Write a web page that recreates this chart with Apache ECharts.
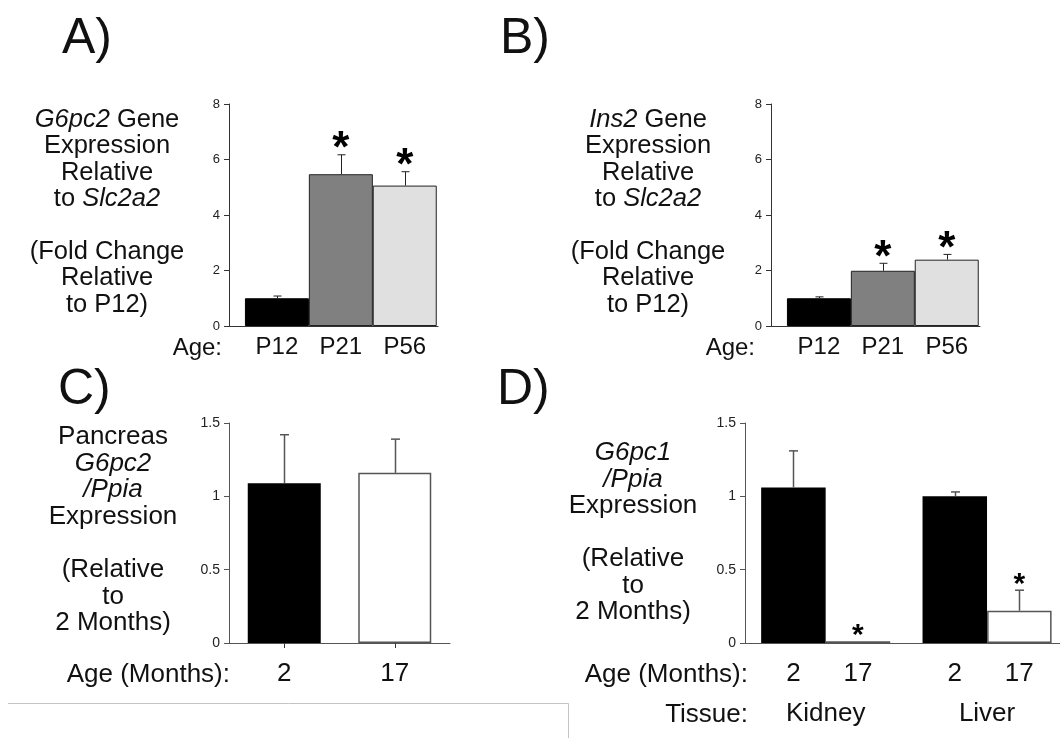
<!DOCTYPE html>
<html><head><meta charset="utf-8">
<script src="https://cdn.jsdelivr.net/npm/echarts@6/dist/echarts.min.js"></script>
<style>html,body{margin:0;padding:0;background:#fff}#c{width:1060px;height:738px}</style>
</head><body><div id="c"></div>
<script>
// ---------- data ----------
const catsA = ['P12', 'P21', 'P56'];
const valsA = [1.0, 5.47, 5.06];
const errA  = [0.08, 0.70, 0.50];
const sigA  = [0, 1, 1];

const catsB = ['P12', 'P21', 'P56'];
const valsB = [1.0, 1.99, 2.39];
const errB  = [0.05, 0.27, 0.19];
const sigB  = [0, 1, 1];

const catsC = ['2', '17'];
const valsC = [1.09, 1.16];
const errC  = [0.33, 0.23];
const sigC  = [0, 0];

const catsD   = ['2', '17', '2', '17'];
const tissueD = ['Kidney', 'Liver'];
const valsD = [1.06, 0.012, 1.00, 0.22];
const errD  = [0.25, 0.0, 0.03, 0.14];
const sigD  = [0, 1, 0, 1];

const ticksAB = { min: 0, max: 8, step: 2 };
const ticksCD = { min: 0, max: 1.5, step: 0.5 };

// ---------- layout / style ----------
const FF = '"Liberation Sans", Arial, Helvetica, sans-serif';
const posAB = [0, 1, 2];           // adjacent bars
const posD  = [0, 1, 2.5, 3.5];    // two tissue groups
const tissuePos = [(posD[0] + posD[1]) / 2, (posD[2] + posD[3]) / 2];
const fillsAB = ['#000000', '#808080', '#e0e0e0'];
const edgesAB = ['#000000', '#222222', '#222222'];
const fillsCD = ['#000000', '#ffffff', '#000000', '#ffffff'];
const edgesCD = ['#000000', '#555555', '#000000', '#555555'];

function errRender(o) {
  return function (params, api) {
    const x = api.value(0), y = api.value(1), e = api.value(2), s = api.value(3);
    const p0 = api.coord([x, y]), p1 = api.coord([x, y + e]);
    const cx = Math.round(p0[0]) + 0.5;
    const children = [];
    if (e > 0) {
      children.push({ type: 'line', shape: { x1: cx, y1: p0[1], x2: cx, y2: p1[1] },
        style: { stroke: o.color, lineWidth: o.lw } });
      children.push({ type: 'line', shape: { x1: cx - o.cap / 2, y1: p1[1], x2: cx + o.cap / 2, y2: p1[1] },
        style: { stroke: o.color, lineWidth: o.lw } });
    }
    if (s) {
      children.push({ type: 'text', x: p1[0], y: p1[1] - o.gap + 0.225 * o.star,
        style: { text: '*', fill: '#000', font: 'bold ' + o.star + 'px ' + FF,
          align: 'center', verticalAlign: 'middle', textAlign: 'center', textVerticalAlign: 'middle' } });
    }
    return { type: 'group', children };
  };
}

function barData(vals, pos, fills, edges, bw) {
  return vals.map((v, i) => ({ value: pos ? [pos[i], v] : v,
    itemStyle: { color: fills[i], borderColor: edges[i], borderWidth: bw } }));
}
function errData(vals, errs, sigs, pos) {
  return vals.map((v, i) => [pos ? pos[i] : i, v, errs[i], sigs[i]]);
}

function txt(x, y, text, size, align, extra) {
  return Object.assign({ type: 'text', x: x, y: y, style: {
    text: text, font: size + 'px ' + FF, fill: '#111',
    align: align, textAlign: align, verticalAlign: 'middle', textVerticalAlign: 'middle',
    rich: { i: { fontStyle: 'italic', fontSize: size, fontFamily: FF, fill: '#111' } } } }, extra || {});
}
function titleBlock(cx, y0, step, size, lines) {
  const out = [];
  lines.forEach((l, k) => { if (l) out.push(txt(cx, y0 + k * step, l, size, 'center')); });
  return out;
}

const yAxisBase = (g, t, col, fs) => ({
  gridIndex: g, type: 'value', min: t.min, max: t.max, interval: t.step,
  axisLine: { show: true, onZero: false, lineStyle: { color: col, width: 1 } },
  axisTick: { show: true, inside: false, length: 5, lineStyle: { color: col } },
  axisLabel: { fontSize: fs, fontFamily: FF, color: '#222', margin: 9 },
  splitLine: { show: false }
});
const xLblAB = { fontSize: 24, fontFamily: FF, color: '#111' };
const xLblCD = { fontSize: 26, fontFamily: FF, color: '#111' };

const option = {
  animation: false,
  backgroundColor: '#fff',
  grid: [
    { left: 229, top: 104, width: 209, height: 222 },
    { left: 771, top: 104, width: 209, height: 222 },
    { left: 229, top: 423, width: 221, height: 220 },
    { left: 745, top: 423, width: 315, height: 220 }
  ],
  xAxis: [
    { gridIndex: 0, type: 'value', min: -0.75, max: 2.52,
      axisLine: { show: true, onZero: false, lineStyle: { color: '#333' } }, axisTick: { show: false }, splitLine: { show: false },
      axisLabel: Object.assign({ customValues: posAB, margin: 9, formatter: v => catsA[posAB.indexOf(v)] }, xLblAB) },
    { gridIndex: 1, type: 'value', min: -0.75, max: 2.52,
      axisLine: { show: true, onZero: false, lineStyle: { color: '#333' } }, axisTick: { show: false }, splitLine: { show: false },
      axisLabel: Object.assign({ customValues: posAB, margin: 9, formatter: v => catsB[posAB.indexOf(v)] }, xLblAB) },
    { gridIndex: 2, type: 'category', data: catsC, boundaryGap: true,
      axisLine: { show: true, onZero: false, lineStyle: { color: '#555' } },
      axisTick: { show: true, alignWithLabel: true, length: 5, lineStyle: { color: '#333' } },
      axisLabel: Object.assign({ margin: 18 }, xLblCD) },
    { gridIndex: 3, type: 'value', min: -0.75, max: 4.13, position: 'bottom',
      axisLine: { show: true, onZero: false, lineStyle: { color: '#555' } }, axisTick: { show: false }, splitLine: { show: false },
      axisLabel: Object.assign({ customValues: posD, margin: 18, formatter: v => catsD[posD.indexOf(v)] }, xLblCD) },
    { gridIndex: 3, type: 'value', min: -0.75, max: 4.13, position: 'bottom', offset: 0,
      axisLine: { show: false, onZero: false }, axisTick: { show: false }, splitLine: { show: false },
      axisLabel: Object.assign({ customValues: tissuePos, margin: 58, formatter: v => tissueD[tissuePos.indexOf(v)] }, xLblCD) }
  ],
  yAxis: [
    yAxisBase(0, ticksAB, '#333', 13),
    yAxisBase(1, ticksAB, '#333', 13),
    yAxisBase(2, ticksCD, '#555', 14),
    yAxisBase(3, ticksCD, '#555', 14)
  ],
  series: [
    { type: 'bar', xAxisIndex: 0, yAxisIndex: 0, barWidth: 64, data: barData(valsA, posAB, fillsAB, edgesAB, 1) },
    { type: 'custom', xAxisIndex: 0, yAxisIndex: 0, z: 5, data: errData(valsA, errA, sigA, posAB),
      renderItem: errRender({ color: '#222', lw: 1, cap: 8, star: 44, gap: 15 }) },
    { type: 'bar', xAxisIndex: 1, yAxisIndex: 1, barWidth: 64, data: barData(valsB, posAB, fillsAB, edgesAB, 1) },
    { type: 'custom', xAxisIndex: 1, yAxisIndex: 1, z: 5, data: errData(valsB, errB, sigB, posAB),
      renderItem: errRender({ color: '#222', lw: 1, cap: 8, star: 44, gap: 14 }) },
    { type: 'bar', xAxisIndex: 2, yAxisIndex: 2, barWidth: 73, data: barData(valsC, null, fillsCD, edgesCD, 1.5) },
    { type: 'custom', xAxisIndex: 2, yAxisIndex: 2, z: 5, data: errData(valsC, errC, sigC, null),
      renderItem: errRender({ color: '#555', lw: 1.5, cap: 9, star: 30, gap: 11 }) },
    { type: 'bar', xAxisIndex: 3, yAxisIndex: 3, barWidth: 64.5, data: barData(valsD, posD, fillsCD, edgesCD, 1.5) },
    { type: 'custom', xAxisIndex: 3, yAxisIndex: 3, z: 5, data: errData(valsD, errD, sigD, posD),
      renderItem: errRender({ color: '#555', lw: 1.5, cap: 9, star: 30, gap: 12 }) }
  ],
  graphic: [].concat(
    [
      txt(62, 39, 'A)', 50, 'left'),
      txt(500, 39, 'B)', 50, 'left'),
      txt(58, 390, 'C)', 50, 'left'),
      txt(497, 390, 'D)', 50, 'left')
    ],
    titleBlock(107, 120, 26.4, 25.5, ['{i|G6pc2} Gene', 'Expression', 'Relative', 'to {i|Slc2a2}', '', '(Fold Change', 'Relative', 'to P12)']),
    titleBlock(648, 120, 26.4, 25.5, ['{i|Ins2} Gene', 'Expression', 'Relative', 'to {i|Slc2a2}', '', '(Fold Change', 'Relative', 'to P12)']),
    titleBlock(113, 437, 26.6, 26, ['Pancreas', '{i|G6pc2}', '{i|/Ppia}', 'Expression', '', '(Relative', 'to', '2 Months)']),
    titleBlock(633, 453, 26.5, 26, ['{i|G6pc1}', '{i|/Ppia}', 'Expression', '', '(Relative', 'to', '2 Months)']),
    [
      txt(222, 348, 'Age:', 24, 'right'),
      txt(755, 348, 'Age:', 24, 'right'),
      txt(230, 675, 'Age (Months):', 26, 'right'),
      txt(748, 675, 'Age (Months):', 26, 'right'),
      txt(748, 715, 'Tissue:', 26, 'right'),
      { type: 'polyline', shape: { points: [[8, 703.5], [568.5, 703.5], [568.5, 738]] },
        style: { stroke: '#c4c4c4', lineWidth: 1, fill: null } }
    ]
  )
};

const chart = echarts.init(document.getElementById('c'), null, { renderer: 'canvas' });
chart.setOption(option);
</script>
</body></html>
